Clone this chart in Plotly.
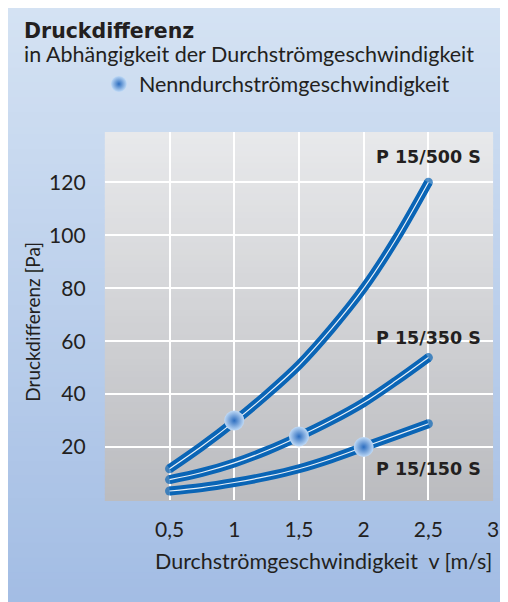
import plotly.graph_objects as go

# ---- data ----
velocity = [0.5, 0.75, 1.0, 1.25, 1.5, 1.75, 2.0, 2.25, 2.5]
p_500 = [11.8, 20.3, 29.6, 39.8, 51.0, 64.6, 80.0, 98.6, 120.0]
p_350 = [7.7, 10.4, 14.0, 18.6, 24.0, 30.0, 36.8, 45.0, 53.8]
p_150 = [3.4, 4.7, 6.6, 8.9, 11.8, 15.6, 20.0, 24.4, 28.8]
series_names = ["P 15/500 S", "P 15/350 S", "P 15/150 S"]
nominal_v = [1.0, 1.5, 2.0]
nominal_p = [30.0, 24.0, 20.0]
x_ticks = [0.5, 1.0, 1.5, 2.0, 2.5, 3.0]
x_tick_labels = ["0,5", "1", "1,5", "2", "2,5", "3"]
y_ticks = [20, 40, 60, 80, 100, 120]
y_tick_labels = ["20", "40", "60", "80", "100", "120"]

# figure size: page is 508x602 with 8px body margin
W, H = 500, 594
FONT = "Lato"
BOLD = "DejaVu Sans"
TXT = "#231f20"
LINE_BLUE = "#0a65b6"


def lerp(c1, c2, t):
    a = [int(c1[i:i + 2], 16) for i in (1, 3, 5)]
    b = [int(c2[i:i + 2], 16) for i in (1, 3, 5)]
    return "rgb(%d,%d,%d)" % tuple(round(a[k] + (b[k] - a[k]) * t) for k in range(3))


fig = go.Figure()

series = [p_500, p_350, p_150]
for name, vals in zip(series_names, series):
    n = len(vals)
    caps = [9] + [0] * (n - 2) + [9]
    fig.add_trace(go.Scatter(
        x=velocity, y=vals, mode="lines+markers", name=name, showlegend=False,
        line=dict(color=LINE_BLUE, width=9, shape="spline", smoothing=1.0),
        marker=dict(size=caps, color=LINE_BLUE, line=dict(width=0)),
        hoverinfo="skip"))
    fig.add_trace(go.Scatter(
        x=velocity, y=vals, mode="lines", showlegend=False,
        line=dict(color="rgba(255,255,255,0.9)", width=1.2, shape="spline", smoothing=1.0),
        hoverinfo="skip"))

fig.add_trace(go.Scatter(
    x=nominal_v, y=nominal_p, mode="markers", name="Nenndurchströmgeschwindigkeit",
    showlegend=True,
    marker=dict(size=20, color="#c0daf6",
                gradient=dict(type="radial", color="#2d6ec0"),
                line=dict(width=0))))

shapes = []
# light-blue panel gradient (whole paper)
N1 = 80
for i in range(N1):
    shapes.append(dict(type="rect", xref="paper", yref="paper", layer="below",
                       x0=0, x1=1, y0=1 - (i + 1) / N1 - 0.002, y1=1 - i / N1,
                       fillcolor=lerp("#d4e2f3", "#a3bde4", i / (N1 - 1)),
                       line=dict(width=0)))
# plot area grey gradient
N2 = 60
for i in range(N2):
    shapes.append(dict(type="rect", xref="x domain", yref="y domain", layer="below",
                       x0=0, x1=1, y0=1 - (i + 1) / N2 - 0.003, y1=1 - i / N2,
                       fillcolor=lerp("#e8e9eb", "#bbbcc0", i / (N2 - 1)),
                       line=dict(width=0)))

annotations = [
    dict(text="<b>Druckdifferenz</b>", xref="paper", yref="paper", x=14 / W, y=1 - 23 / H,
         xanchor="left", yanchor="middle", showarrow=False,
         font=dict(family=BOLD, size=20.5, color=TXT)),
    dict(text="in Abhängigkeit der Durchströmgeschwindigkeit", xref="paper", yref="paper",
         x=14 / W, y=1 - 46 / H, xanchor="left", yanchor="middle", showarrow=False,
         font=dict(family=FONT, size=21.5, color=TXT)),
    dict(text="Durchströmgeschwindigkeit&nbsp;&nbsp;v [m/s]", xref="paper", yref="paper",
         x=492 / W, y=1 - 553 / H, xanchor="right", yanchor="middle", showarrow=False,
         font=dict(family=FONT, size=21.5, color=TXT)),
    dict(text="Druckdifferenz [Pa]", xref="paper", yref="paper", textangle=-90,
         x=24 / W, y=1 - 314 / H, xanchor="center", yanchor="middle", showarrow=False,
         font=dict(family=FONT, size=19, color=TXT)),
]
label_shift = [25, 20, -45]
for name, vals, sh in zip(series_names, series, label_shift):
    annotations.append(dict(text="<b>%s</b>" % name, x=velocity[-1], y=vals[-1],
                            xref="x", yref="y", yshift=sh, xanchor="center",
                            yanchor="middle", showarrow=False,
                            font=dict(family=BOLD, size=17.5, color=TXT)))

fig.update_layout(
    width=W, height=H,
    margin=dict(l=0, r=0, t=0, b=0),
    paper_bgcolor="#d4e2f3",
    plot_bgcolor="rgba(0,0,0,0)",
    font=dict(family=FONT, size=20, color=TXT),
    shapes=shapes,
    annotations=annotations,
    showlegend=True,
    legend=dict(x=92 / W, y=1 - 76 / H, xanchor="left", yanchor="middle",
                bgcolor="rgba(0,0,0,0)", font=dict(family=FONT, size=21.5, color=TXT),
                itemsizing="trace"),
    xaxis=dict(domain=[98 / W, 491 / W], range=[0, 3], tickvals=x_ticks,
               ticktext=x_tick_labels, showgrid=True, gridcolor="white", gridwidth=2,
               zeroline=False, showline=False, ticks="outside", ticklen=11,
               tickcolor="rgba(0,0,0,0)",
               tickfont=dict(family=FONT, size=21, color=TXT), fixedrange=True),
    yaxis=dict(domain=[1 - 492 / H, 1 - 124 / H], range=[0, 139], tickvals=y_ticks,
               ticktext=y_tick_labels, showgrid=True, gridcolor="white", gridwidth=2,
               zeroline=False, showline=False, ticks="outside", ticklen=14,
               tickcolor="rgba(0,0,0,0)",
               tickfont=dict(family=FONT, size=21, color=TXT), fixedrange=True),
)

fig.write_html("out.html")
